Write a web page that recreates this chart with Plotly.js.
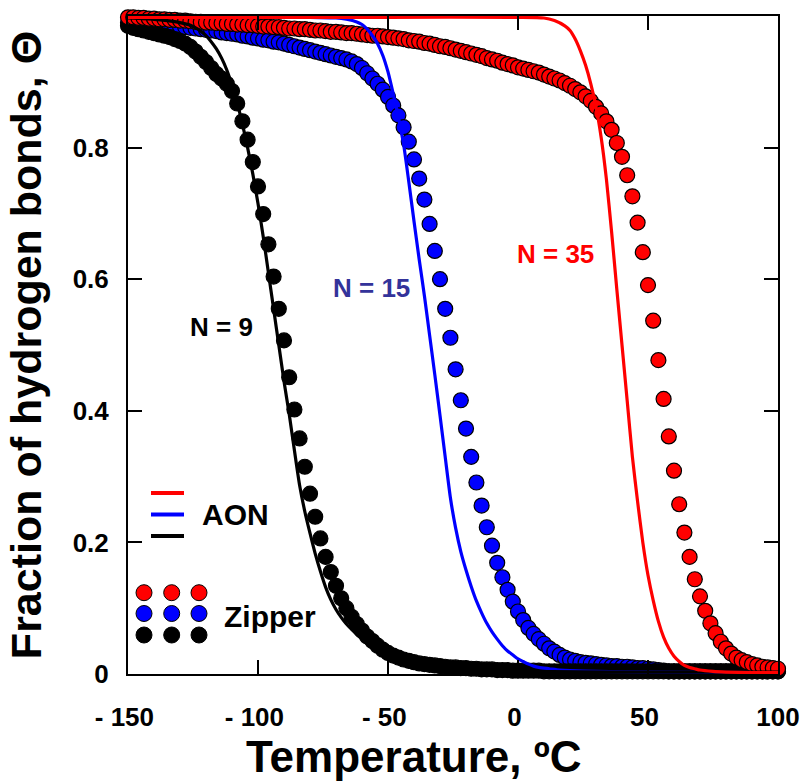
<!DOCTYPE html>
<html>
<head>
<meta charset="utf-8">
<script src="https://cdn.plot.ly/plotly-3.0.1.min.js"></script>
<style>html,body{margin:0;padding:0;background:#fff;}#chart{width:801px;height:782px;}</style>
</head>
<body>
<div id="chart"></div>
<script>
// ---- Zipper model (markers), temperatures in degrees C ----
const zipT = [-150,-148,-146,-144,-142,-140,-138,-136,-134,-132,-130,-128,-126,-124,-122,-120,-118,-116,-114,-112,
  -110,-108,-106,-104,-102,-100,-98,-96,-94,-92,-90,-88,-86,-84,-82,-80,-78,-76,-74,-72,
  -70,-68,-66,-64,-62,-60,-58,-56,-54,-52,-50,-48,-46,-44,-42,-40,-38,-36,-34,-32,
  -30,-28,-26,-24,-22,-20,-18,-16,-14,-12,-10,-8,-6,-4,-2,0,2,4,6,8,
  10,12,14,16,18,20,22,24,26,28,30,32,34,36,38,40,42,44,46,48,
  50,52,54,56,58,60,62,64,66,68,70,72,74,76,78,80,82,84,86,88,
  90,92,94,96,98,100];

const zipN35 = [0.998,0.998,0.997,0.997,0.996,0.996,0.995,0.995,0.994,0.994,0.993,0.993,0.992,0.991,0.991,0.990,0.990,0.989,0.989,0.988,
  0.988,0.987,0.987,0.986,0.986,0.985,0.984,0.984,0.983,0.983,0.982,0.981,0.981,0.980,0.980,0.979,0.978,0.978,0.977,0.976,
  0.976,0.975,0.974,0.974,0.973,0.972,0.971,0.970,0.970,0.969,0.968,0.967,0.966,0.965,0.963,0.962,0.961,0.959,0.958,0.956,
  0.954,0.953,0.951,0.949,0.947,0.945,0.943,0.941,0.939,0.936,0.934,0.932,0.929,0.927,0.925,0.922,0.920,0.918,0.916,0.914,
  0.911,0.908,0.905,0.902,0.898,0.894,0.889,0.884,0.878,0.871,0.862,0.852,0.840,0.827,0.807,0.786,0.758,0.726,0.686,0.641,
  0.591,0.537,0.477,0.418,0.361,0.309,0.258,0.215,0.178,0.144,0.118,0.096,0.077,0.062,0.049,0.039,0.031,0.025,0.021,0.018,
  0.015,0.013,0.011,0.010,0.009,0.008];

const zipN15 = [0.990,0.990,0.989,0.989,0.988,0.988,0.987,0.986,0.986,0.985,0.984,0.983,0.982,0.981,0.980,0.979,0.978,0.977,0.975,0.974,
  0.973,0.972,0.970,0.969,0.967,0.966,0.964,0.963,0.961,0.960,0.958,0.956,0.954,0.952,0.950,0.948,0.946,0.944,0.942,0.940,
  0.938,0.936,0.934,0.931,0.927,0.921,0.913,0.905,0.897,0.888,0.877,0.864,0.849,0.831,0.809,0.782,0.753,0.721,0.684,0.643,
  0.600,0.555,0.511,0.463,0.416,0.373,0.330,0.291,0.256,0.223,0.195,0.169,0.147,0.128,0.110,0.095,0.082,0.070,0.061,0.053,
  0.046,0.039,0.034,0.029,0.025,0.022,0.020,0.018,0.017,0.016,0.015,0.014,0.013,0.012,0.012,0.011,0.011,0.010,0.009,0.009,
  0.008,0.007,0.006,0.005,0.004,0.004,0.004,0.004,0.004,0.004,0.004,0.004,0.004,0.004,0.004,0.004,0.004,0.004,0.004,0.004,
  0.004,0.004,0.004,0.004,0.004,0.004];

const zipN9 = [0.985,0.982,0.980,0.978,0.976,0.974,0.972,0.970,0.968,0.965,0.962,0.958,0.953,0.946,0.938,0.930,0.921,0.912,0.905,0.897,
  0.886,0.867,0.840,0.812,0.778,0.741,0.699,0.653,0.604,0.555,0.507,0.451,0.402,0.358,0.315,0.274,0.239,0.206,0.178,0.155,
  0.134,0.115,0.100,0.087,0.076,0.066,0.057,0.050,0.043,0.037,0.032,0.028,0.025,0.022,0.020,0.018,0.016,0.015,0.014,0.013,
  0.012,0.011,0.010,0.010,0.009,0.009,0.008,0.008,0.007,0.007,0.007,0.006,0.006,0.006,0.005,0.005,0.005,0.005,0.005,0.005,
  0.004,0.004,0.004,0.004,0.004,0.004,0.004,0.004,0.004,0.004,0.004,0.004,0.004,0.004,0.004,0.004,0.004,0.004,0.004,0.004,
  0.004,0.004,0.004,0.004,0.004,0.004,0.004,0.004,0.004,0.004,0.004,0.004,0.004,0.004,0.004,0.004,0.004,0.004,0.004,0.004,
  0.004,0.004,0.004,0.004,0.004,0.004];

// ---- All-or-none model (lines) ----
const aonT35 = [-150,-100,-50,0,10,14,18,20,22,24,26,28,30,32,34,36,38,40,42,44,46,48,50,52,54,56,58,60,62,64,66,68,70,75,80,90,100];
const aonN35 = [0.998,0.998,0.998,0.998,0.997,0.993,0.985,0.978,0.965,0.947,0.925,0.897,0.862,0.815,0.752,0.672,0.585,0.500,0.415,0.330,0.262,0.200,0.150,0.112,0.080,0.056,0.039,0.027,0.019,0.013,0.010,0.008,0.006,0.004,0.003,0.002,0.002];

const aonT15 = [-150,-100,-80,-70,-66,-62,-60,-58,-56,-54,-52,-50,-48,-46,-44,-42,-40,-38,-36,-34,-32,-30,-28,-26,-24,-22,-20,-18,-16,-14,-12,-10,-8,-6,-4,-2,0,2,4,6,8,12,16,20,30,50,100];
const aonN15 = [0.998,0.998,0.998,0.997,0.995,0.991,0.987,0.980,0.970,0.958,0.940,0.915,0.882,0.846,0.805,0.748,0.688,0.630,0.575,0.515,0.455,0.393,0.330,0.268,0.222,0.186,0.158,0.133,0.111,0.093,0.077,0.064,0.053,0.043,0.035,0.029,0.023,0.019,0.015,0.012,0.010,0.008,0.006,0.005,0.004,0.003,0.002];

const aonT9 = [-150,-140,-135,-130,-126,-124,-122,-120,-118,-116,-114,-112,-110,-108,-106,-104,-102,-100,-98,-96,-94,-92,-90,-88,-86,-84,-82,-80,-78,-76,-74,-72,-70,-68,-66,-64,-62,-60,-58,-56,-54,-52,-50,-46,-42,-38,-30,-20,0,50,100];
const aonN9 = [0.997,0.995,0.993,0.990,0.986,0.982,0.977,0.970,0.961,0.950,0.936,0.918,0.895,0.868,0.836,0.800,0.760,0.715,0.665,0.610,0.555,0.500,0.445,0.395,0.340,0.287,0.247,0.214,0.183,0.156,0.132,0.113,0.098,0.086,0.076,0.068,0.060,0.053,0.046,0.040,0.034,0.028,0.024,0.018,0.013,0.010,0.007,0.005,0.004,0.003,0.003];

// ---- Axis ticks ----
const xTickVals = [-150,-100,-50,0,50,100];
const xTickText = ['- 150\u00a0','- 100\u00a0','- 50\u00a0','0\u00a0','50\u00a0','100'];
const yTickVals = [0,0.2,0.4,0.6,0.8];
const yTickText = ['0','0.2','0.4','0.6','0.8'];

const FONT = 'Liberation Sans, Arial, Helvetica, sans-serif';
const RED = '#ff0000', BLUE = '#0000ff', BLACK = '#000000';

function markerTrace(x, y, color, name) {
  return {x: x, y: y, type: 'scatter', mode: 'markers', name: name, showlegend: false,
    marker: {size: 15, color: color, line: {color: '#000', width: 1.2}}, cliponaxis: false};
}
function lineTrace(x, y, color, name, w) {
  return {x: x, y: y, type: 'scatter', mode: 'lines', name: name, showlegend: false,
    line: {color: color, width: w, shape: 'spline', smoothing: 0.6}};
}

const traces = [
  markerTrace(zipT, zipN15, BLUE, 'Zipper N=15'),
  markerTrace(zipT, zipN9, BLACK, 'Zipper N=9'),
  markerTrace(zipT, zipN35, RED, 'Zipper N=35'),
  lineTrace(aonT15, aonN15, BLUE, 'AON N=15', 3.2),
  lineTrace(aonT9, aonN9, BLACK, 'AON N=9', 3.2),
  lineTrace(aonT35, aonN35, RED, 'AON N=35', 3.2)
];

// pixel -> paper helpers (plot area: x 128..778, y 16..674)
const L = 128, R = 23, T = 16, B = 108, W = 801, H = 782;
const pw = W - L - R, ph = H - T - B;
const px = v => (v - L) / pw;
const py = v => (H - B - v) / ph;

const shapes = [];
[[RED, 493], [BLUE, 514.5], [BLACK, 536]].forEach(([c, yy]) => {
  shapes.push({type: 'line', xref: 'paper', yref: 'paper', x0: px(151), x1: px(184), y0: py(yy), y1: py(yy),
    line: {color: c, width: 4}});
});
[[RED, 592.7], [BLUE, 613.5], [BLACK, 635]].forEach(([c, yy]) => {
  [144, 171.7, 199].forEach(xx => {
    shapes.push({type: 'circle', xref: 'paper', yref: 'paper', xsizemode: 'pixel', ysizemode: 'pixel',
      xanchor: px(xx), yanchor: py(yy), x0: -8, x1: 8, y0: -8, y1: 8,
      fillcolor: c, line: {color: '#000', width: 1}});
  });
});

const annotations = [
  {x: -114.2, y: 0.527, xref: 'x', yref: 'y', text: 'N = 9', showarrow: false,
    font: {family: FONT, size: 26, color: '#000', weight: 'bold'}},
  {x: -56.3, y: 0.587, xref: 'x', yref: 'y', text: 'N = 15', showarrow: false,
    font: {family: FONT, size: 26, color: '#33339a', weight: 'bold'}},
  {x: 14.6, y: 0.638, xref: 'x', yref: 'y', text: 'N = 35', showarrow: false,
    font: {family: FONT, size: 26, color: RED, weight: 'bold'}},
  {x: px(200), y: py(514.5), xref: 'paper', yref: 'paper', xanchor: 'left', yanchor: 'middle',
    text: 'AON', showarrow: false, font: {family: FONT, size: 30, color: '#000', weight: 'bold'}},
  {x: px(222), y: py(616), xref: 'paper', yref: 'paper', xanchor: 'left', yanchor: 'middle',
    text: 'Zipper', showarrow: false, font: {family: FONT, size: 30, color: '#000', weight: 'bold'}},
  // x-axis title, placed as in the reference (slightly left of centre)
  {x: px(414), y: py(756), xref: 'paper', yref: 'paper', xanchor: 'center', yanchor: 'middle',
    text: 'Temperature, ºC', showarrow: false,
    font: {family: FONT, size: 44, color: '#000', weight: 'bold'}}
];

const layout = {
  width: W, height: H,
  margin: {l: L, r: R, t: T, b: B, pad: 0},
  paper_bgcolor: '#fff', plot_bgcolor: '#fff',
  showlegend: false,
  font: {family: FONT, color: '#000'},
  xaxis: {
    range: [-150, 100], tickvals: xTickVals, ticktext: xTickText,
    ticks: 'inside', ticklen: 14, tickwidth: 2, tickcolor: '#000',
    showline: true, linecolor: '#000', linewidth: 2, mirror: 'ticks',
    showgrid: false, zeroline: false, ticklabelstandoff: 19,
    tickfont: {family: FONT, size: 26, color: '#000', weight: 'bold'},
    automargin: false
  },
  yaxis: {
    range: [0, 1], tickvals: yTickVals, ticktext: yTickText,
    ticks: 'inside', ticklen: 14, tickwidth: 2, tickcolor: '#000',
    showline: true, linecolor: '#000', linewidth: 2, mirror: 'ticks',
    showgrid: false, zeroline: false, ticklabelstandoff: 12,
    tickfont: {family: FONT, size: 26, color: '#000', weight: 'bold'},
    title: {text: 'Fraction of hydrogen bonds, Θ', standoff: 18,
      font: {family: FONT, size: 43, color: '#000', weight: 'bold'}},
    automargin: false
  },
  shapes: shapes,
  annotations: annotations
};

Plotly.newPlot('chart', traces, layout, {displayModeBar: false, staticPlot: true});
</script>
</body>
</html>
